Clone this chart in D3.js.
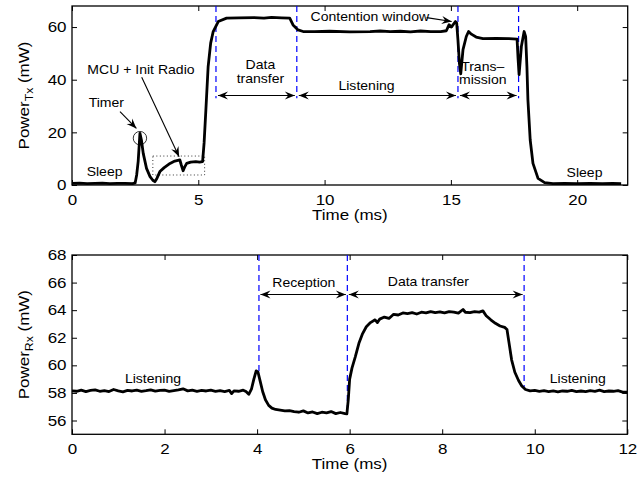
<!DOCTYPE html>
<html>
<head>
<meta charset="utf-8">
<script src="https://cdn.jsdelivr.net/npm/d3@7"></script>
<style>
body { margin: 0; background: #fff; }
svg text { font-family: "Liberation Sans", Arial, Helvetica, sans-serif; fill: #000; }
</style>
</head>
<body>
<svg id="chart" width="641" height="479"></svg>
<script>
// ---- transmit trace (top panel) ----
const txTime = [0, 0.3, 0.6, 0.9, 1.2, 1.5, 1.8, 2.1, 2.4, 2.5, 2.56, 2.62, 2.69, 2.75, 2.82, 2.95,
    3.09, 3.2, 3.28, 3.36, 3.48, 3.65, 3.88, 4.07, 4.27, 4.33, 4.4, 4.47, 4.54, 4.7, 4.9, 5.05,
    5.17, 5.23, 5.3, 5.39, 5.49, 5.59, 5.79, 6.12, 6.6, 7.2, 7.6, 7.9, 8.3, 8.62, 8.75, 8.95,
    9.15, 9.6, 10.2, 11.0, 11.8, 12.2, 12.6, 13.0, 13.4, 13.8, 14.2, 14.6, 14.82, 14.93, 15.02,
    15.18, 15.23, 15.28, 15.34, 15.39, 15.48, 15.61, 15.7, 15.81, 16.0, 16.27, 16.8, 17.3, 17.62,
    17.66, 17.7, 17.79, 17.9, 17.96, 18.01, 18.05, 18.14, 18.25, 18.45, 18.71, 19.04, 19.5, 20.0,
    20.5, 21.0, 21.4, 21.74];
const txPower = [0.6, 0.7, 0.5, 0.6, 0.7, 0.5, 0.6, 0.6, 0.5, 0.8, 3.8, 9, 19.6, 17, 12, 6.3,
    3.2, 1.8, 1.25, 2.5, 5.1, 6.6, 8.2, 9.1, 9.5, 7.5, 5.4, 7.0, 8.2, 8.7, 8.9, 8.7,
    8.9, 16, 28.5, 45, 53.9, 58.3, 62.1, 63.4, 63.5, 63.6, 63.4, 63.7, 63.5, 63.4, 60.8, 58.9,
    58.3, 58.3, 58.4, 58.2, 58.3, 58.5, 58.3, 58.4, 58.2, 58.5, 58.3, 58.3, 58.6, 60.9, 60.0,
    62.1, 61.5, 55, 46, 42.2, 51.4, 56.4, 58.3, 57.3, 56.2, 55.6, 55.7, 55.6, 55.4,
    48, 41.9, 52.6, 58.3, 56.4, 45, 32.3, 17.1, 8.2, 2.5, 0.9, 0.5, 0.6, 0.5,
    0.6, 0.5, 0.6, 0.5];
const txMarks = [5.7, 8.9, 15.28, 17.68];   // phase boundaries (ms)
const txXTicks = [0, 5, 10, 15, 20];
const txYTicks = [0, 20, 40, 60];

// ---- receive trace (bottom panel) ----
const rxTime = [0, 0.1, 0.2, 0.3, 0.4, 0.5, 0.6, 0.7, 0.8, 0.9, 1.0, 1.1, 1.2, 1.3, 1.4, 1.5,
    1.6, 1.7, 1.8, 1.9, 2.0, 2.1, 2.2, 2.3, 2.4, 2.5, 2.6, 2.7, 2.8, 2.9, 3.0, 3.1, 3.2, 3.3,
    3.4, 3.45, 3.5, 3.6, 3.7, 3.76, 3.82, 3.88, 3.93, 3.98, 4.02, 4.07, 4.12, 4.18, 4.25, 4.32,
    4.4, 4.5, 4.6, 4.7, 4.8, 4.9, 5.0, 5.1, 5.2, 5.3, 5.4, 5.5, 5.6, 5.7, 5.8, 5.9, 5.94, 5.97,
    6.0, 6.05, 6.12, 6.2, 6.28, 6.36, 6.45, 6.55, 6.6, 6.65, 6.75, 6.85, 6.95, 7.05, 7.15, 7.25,
    7.35, 7.45, 7.55, 7.65, 7.75, 7.85, 7.95, 8.05, 8.15, 8.25, 8.35, 8.45, 8.5, 8.6, 8.7, 8.8,
    8.88, 8.95, 9.05, 9.15, 9.25, 9.35, 9.4, 9.45, 9.5, 9.57, 9.65, 9.72, 9.8, 9.9, 10.0, 10.1,
    10.2, 10.3, 10.4, 10.5, 10.6, 10.7, 10.8, 10.9, 11.0, 11.1, 11.2, 11.3, 11.4, 11.5, 11.6,
    11.7, 11.8, 11.9, 12.0];
const rxPower = [58.15, 58.12, 58.2, 58.1, 58.18, 58.22, 58.12, 58.17, 58.1, 58.25, 58.15, 58.08, 58.18, 58.14, 58.2, 58.12,
    58.16, 58.22, 58.13, 58.18, 58.2, 58.12, 58.17, 58.22, 58.3, 58.15, 58.2, 58.12, 58.18, 58.14, 58.2, 58.12, 58.17, 58.1,
    58.18, 57.95, 58.15, 58.12, 58.2, 58.1, 57.9, 58.3, 59.0, 59.6, 59.5, 58.8, 58.1, 57.5, 57.1, 56.9,
    56.8, 56.75, 56.7, 56.72, 56.65, 56.6, 56.7, 56.55, 56.62, 56.5, 56.6, 56.55, 56.65, 56.5, 56.58, 56.5, 56.48, 57.5,
    59.0, 59.8, 60.6, 61.6, 62.3, 62.8, 63.1, 63.3, 63.1, 63.35, 63.5, 63.4, 63.7, 63.65, 63.8, 63.75,
    63.82, 63.72, 63.85, 63.8, 63.9, 63.82, 63.88, 63.8, 63.9, 63.85, 63.78, 64.05, 63.85, 63.82, 63.9, 63.86,
    63.95, 63.6, 63.3, 63.05, 62.85, 62.75, 62.6, 61.5, 60.4, 59.5, 58.9, 58.5, 58.25, 58.15, 58.18, 58.12,
    58.16, 58.1, 58.15, 58.08, 58.14, 58.12, 58.18, 58.1, 58.14, 58.1, 58.16, 58.12, 58.2, 58.1, 58.14,
    58.12, 58.16, 58.06, 58.05];
const rxMarks = [4.04, 5.95, 9.77];
const rxMarkEnds = [59.5, 56.5, 58.4];     // where each boundary line meets the trace
const rxXTicks = [0, 2, 4, 6, 8, 10, 12];
const rxYTicks = [56, 58, 60, 62, 64, 66, 68];

const STRETCH = 1.17;   // the original fonts print wider than Arial
const svg = d3.select('#chart');

const defs = svg.append('defs');
defs.append('marker')
    .attr('id', 'head')
    .attr('viewBox', '-11 -5 12 10')
    .attr('refX', 0).attr('refY', 0)
    .attr('markerWidth', 12).attr('markerHeight', 10)
    .attr('markerUnits', 'userSpaceOnUse')
    .attr('orient', 'auto-start-reverse')
    .append('path')
    .attr('d', 'M0,0 L-10,-4 L-6.5,0 L-10,4 Z')
    .attr('fill', '#000');

function putText(g, x, y, str, size){
    return g.append('text')
        .attr('transform', 'translate(' + x + ',' + y + ') scale(' + STRETCH + ',1)')
        .attr('text-anchor', 'middle')
        .attr('dominant-baseline', 'central')
        .style('font-size', size + 'px')
        .text(str);
}

function arrow(g, x1, y1, x2, y2, both){
    const l = g.append('line')
        .attr('x1', x1).attr('y1', y1).attr('x2', x2).attr('y2', y2)
        .attr('stroke', '#000').attr('stroke-width', 1.1)
        .attr('marker-end', 'url(#head)');
    if(both){
        l.attr('marker-start', 'url(#head)');
    }
    return l;
}

/**
 * draw one MATLAB-like panel: box, inward ticks on all sides, titles
 */
function drawPanel(cfg){
    const x = d3.scaleLinear().domain(cfg.xDomain).range([cfg.left, cfg.right]);
    const y = d3.scaleLinear().domain(cfg.yDomain).range([cfg.bottom, cfg.top]);
    const g = svg.append('g');

    const styleAxis = function(sel){
        sel.select('.domain').remove();
        sel.attr('font-size', 14.5).attr('font-family', null);
        sel.selectAll('.tick line').attr('stroke-width', 1);
    };

    g.append('g')
        .attr('transform', 'translate(0,' + cfg.bottom + ')')
        .call(d3.axisBottom(x).tickValues(cfg.xTicks).tickSize(-5).tickPadding(9.5))
        .call(styleAxis)
        .selectAll('text').attr('transform', 'scale(' + STRETCH + ',1)');
    g.append('g')
        .attr('transform', 'translate(0,' + cfg.top + ')')
        .call(d3.axisTop(x).tickValues(cfg.xTicks).tickSize(-5).tickFormat(''))
        .call(styleAxis);
    g.append('g')
        .attr('transform', 'translate(' + cfg.left + ',0)')
        .call(d3.axisLeft(y).tickValues(cfg.yTicks).tickSize(-5).tickPadding(4.7))
        .call(styleAxis)
        .selectAll('text').attr('transform', 'scale(' + STRETCH + ',1)');
    g.append('g')
        .attr('transform', 'translate(' + cfg.right + ',0)')
        .call(d3.axisRight(y).tickValues(cfg.yTicks).tickSize(-5).tickFormat(''))
        .call(styleAxis);

    g.append('rect')
        .attr('x', cfg.left).attr('y', cfg.top)
        .attr('width', cfg.right - cfg.left).attr('height', cfg.bottom - cfg.top)
        .attr('fill', 'none').attr('stroke', '#000').attr('stroke-width', 1.3);

    // axis titles
    putText(g, (cfg.left + cfg.right) / 2, cfg.bottom + 29.5, 'Time (ms)', 14.5);
    const yl = g.append('text')
        .attr('transform', 'translate(28.5,' + (cfg.top + cfg.bottom) / 2 + ') rotate(-90) scale(' + STRETCH + ',1)')
        .attr('text-anchor', 'middle')
        .style('font-size', '14.5px');
    yl.append('tspan').text('Power');
    yl.append('tspan').text(cfg.sub).attr('dy', 4).style('font-size', '10.5px');
    yl.append('tspan').text(' (mW)').attr('dy', -4);

    return {x: x, y: y, g: g};
}

// ================= top panel =================
const txPanel = drawPanel({
    left: 72, right: 627.7, top: 6, bottom: 185,
    xDomain: [0, 22], yDomain: [0, 68],
    xTicks: txXTicks, yTicks: txYTicks, sub: 'Tx'
});

// boundaries
txPanel.g.selectAll('.mark')
    .data(txMarks)
    .enter().append('line')
    .attr('x1', d => txPanel.x(d)).attr('x2', d => txPanel.x(d))
    .attr('y1', txPanel.y(68)).attr('y2', txPanel.y(33))
    .attr('stroke', '#0000ff').attr('stroke-width', 1.2)
    .attr('stroke-dasharray', '6,4');

// phase arrows
for(let i = 0; i < txMarks.length - 1; i++){
    arrow(txPanel.g, txPanel.x(txMarks[i]) + 2, txPanel.y(34), txPanel.x(txMarks[i + 1]) - 2, txPanel.y(34), true);
}

// dotted box around MCU + radio init
txPanel.g.append('rect')
    .attr('x', txPanel.x(3.2)).attr('y', txPanel.y(11))
    .attr('width', txPanel.x(5.25) - txPanel.x(3.2)).attr('height', txPanel.y(3.8) - txPanel.y(11))
    .attr('fill', 'none').attr('stroke', '#000').attr('stroke-width', 0.8)
    .attr('stroke-dasharray', '1,2.5');

txPanel.g.append('path')
    .datum(d3.zip(txTime, txPower))
    .attr('d', d3.line().x(d => txPanel.x(d[0])).y(d => txPanel.y(d[1])))
    .attr('fill', 'none').attr('stroke', '#000').attr('stroke-width', 2.8)
    .attr('stroke-linejoin', 'round');

// timer circle
txPanel.g.append('circle')
    .attr('cx', txPanel.x(2.69)).attr('cy', txPanel.y(17.8)).attr('r', 6.7)
    .attr('fill', 'none').attr('stroke', '#000').attr('stroke-width', 0.8);

arrow(txPanel.g, txPanel.x(1.9), txPanel.y(27.85), txPanel.x(2.55), txPanel.y(21.5), false);
arrow(txPanel.g, txPanel.x(2.76), txPanel.y(40.9), txPanel.x(4.24), txPanel.y(10.75), false);
arrow(txPanel.g, txPanel.x(14.04), txPanel.y(63.6), txPanel.x(15.03), txPanel.y(62.1), false);

const txNotes = [
    ['Sleep', 1.29, 5.0], ['Sleep', 20.29, 4.7], ['Timer', 1.36, 31.3],
    ['MCU + Init Radio', 2.73, 43.8], ['Data', 7.46, 45.7], ['transfer', 7.46, 40.3],
    ['Listening', 11.66, 37.7], ['Contention window', 11.79, 64.0],
    ['Trans\u2013', 16.26, 45.0], ['mission', 16.26, 39.9]
];
txNotes.forEach(n => putText(txPanel.g, txPanel.x(n[1]), txPanel.y(n[2]), n[0], 12));

// ================= bottom panel =================
const rxPanel = drawPanel({
    left: 72, right: 627.3, top: 255, bottom: 434.3,
    xDomain: [0, 12], yDomain: [55, 68],
    xTicks: rxXTicks, yTicks: rxYTicks, sub: 'Rx'
});

rxPanel.g.selectAll('.mark')
    .data(rxMarks)
    .enter().append('line')
    .attr('x1', d => rxPanel.x(d)).attr('x2', d => rxPanel.x(d))
    .attr('y1', rxPanel.y(68)).attr('y2', (d, i) => rxPanel.y(rxMarkEnds[i]))
    .attr('stroke', '#0000ff').attr('stroke-width', 1.2)
    .attr('stroke-dasharray', '6,4');

for(let i = 0; i < rxMarks.length - 1; i++){
    arrow(rxPanel.g, rxPanel.x(rxMarks[i]) + 1.5, rxPanel.y(65.14), rxPanel.x(rxMarks[i + 1]) - 1.5, rxPanel.y(65.14), true);
}

rxPanel.g.append('path')
    .datum(d3.zip(rxTime, rxPower))
    .attr('d', d3.line().x(d => rxPanel.x(d[0])).y(d => rxPanel.y(d[1])))
    .attr('fill', 'none').attr('stroke', '#000').attr('stroke-width', 2.8)
    .attr('stroke-linejoin', 'round');

const rxNotes = [
    ['Reception', 5.01, 66.0], ['Data transfer', 7.7, 66.04],
    ['Listening', 1.75, 59.05], ['Listening', 10.93, 59.05]
];
rxNotes.forEach(n => putText(rxPanel.g, rxPanel.x(n[1]), rxPanel.y(n[2]), n[0], 12));
</script>
</body>
</html>
